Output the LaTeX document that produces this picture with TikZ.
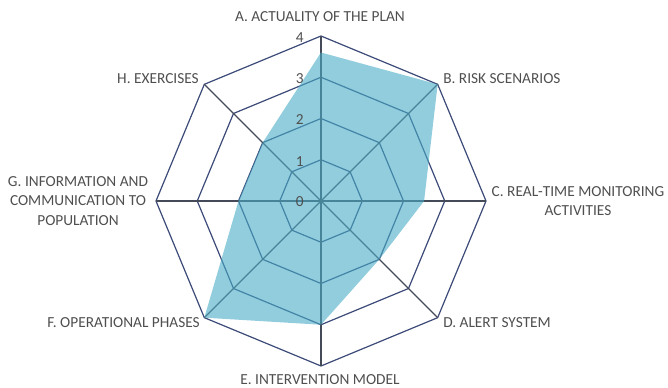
\documentclass[tikz,border=0pt]{standalone}
\usepackage{fontspec}
\setmainfont{Carlito}
\definecolor{ringblue}{HTML}{3B4A78}
\definecolor{spokegray}{HTML}{454A58}
\definecolor{areablue}{RGB}{73,172,198}
\definecolor{labelgray}{HTML}{4F4F4F}
\tikzset{
  ringline/.style={draw=ringblue, line width=0.9pt, line join=miter},
  spokeline/.style={draw=spokegray, line width=0.9pt},
  axislabel/.style={text=labelgray, inner sep=0pt, font=\fontsize{11.5}{14.8}\selectfont},
}
\begin{document}
\begin{tikzpicture}[x=0.75pt, y=0.75pt]
            \useasboundingbox (-321,-187) rectangle (347,201);

            % axis ends (level 4)
            \coordinate (O) at (0,0);
            \coordinate (A) at (90:165);
            \coordinate (B) at (45:165);
            \coordinate (C) at (0:165);
            \coordinate (D) at (-45:165);
            \coordinate (E) at (-90:165);
            \coordinate (F) at (-135:165);
            \coordinate (G) at (180:165);
            \coordinate (H) at (135:165);

            % rings 1..4
            \foreach \r in {41.25,82.5,123.75,165}
              \draw[ringline] (90:\r) -- (45:\r) -- (0:\r) -- (-45:\r) -- (-90:\r) -- (-135:\r) -- (180:\r) -- (135:\r) -- cycle;

            \draw[spokeline] (A) -- (E);
            \draw[spokeline] (B) -- (F);
            \draw[spokeline] (C) -- (G);
            \draw[spokeline] (D) -- (H);

            % scores
            \fill[areablue, opacity=0.6] (90:148.5) -- (B) -- (0:103.1) -- (-45:82.5) -- (-90:123.75) -- (F) -- (180:82.5) -- (135:82.5) -- cycle;

            \node[axislabel, anchor=east] (t0) at (-17,-1) {0};
            \node[axislabel, anchor=east] (t1) at (-17,39.75) {1};
            \node[axislabel, anchor=east] (t2) at (-17,81) {2};
            \node[axislabel, anchor=east] (t3) at (-17,122.25) {3};
            \node[axislabel, anchor=east] (t4) at (-17,163.5) {4};

            \node[axislabel] (lA) at (-1,184) {A. ACTUALITY OF THE PLAN};
            \node[axislabel, anchor=west] (lB) at (122,122) {B. RISK SCENARIOS};
            \node[axislabel, align=center] (lC) at (257,0) {C. REAL-TIME MONITORING\\ACTIVITIES};
            \node[axislabel, anchor=west] (lD) at (122,-122) {D. ALERT SYSTEM};
            \node[axislabel] (lE) at (-1,-179) {E. INTERVENTION MODEL};
            \node[axislabel, anchor=east] (lF) at (-121,-122) {F. OPERATIONAL PHASES};
            \node[axislabel, align=center] (lG) at (-243,0) {G. INFORMATION AND\\COMMUNICATION TO\\POPULATION};
            \node[axislabel, anchor=east] (lH) at (-122,122) {H. EXERCISES};
\end{tikzpicture}
\end{document}
